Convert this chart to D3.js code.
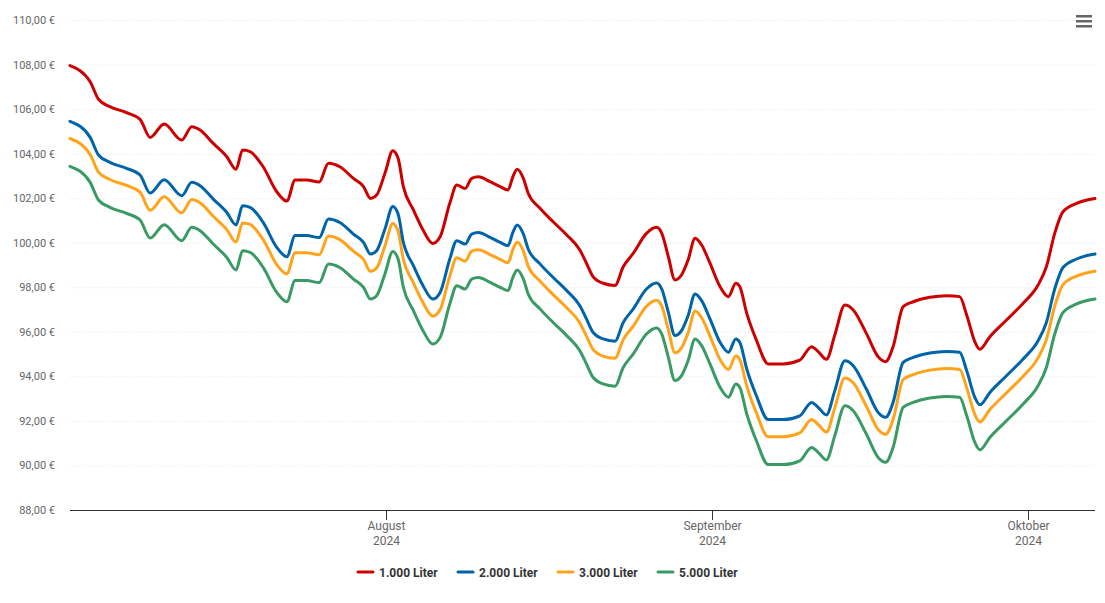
<!DOCTYPE html>
<html lang="de">
<head>
  <meta charset="UTF-8" />
  <title>Heizölpreise</title>
  <script src="https://d3js.org/d3.v7.min.js"></script>
  <style>
    body {
      margin: 0;
      background: #fff;
      font-family: Roboto, "Open Sans", Arial, sans-serif;
    }
    #chart svg { display: block; }
    .grid line { stroke: #e6e6e6; stroke-dasharray: 1,2; }
    .ylab { fill: #666; font-size: 11px; }
    .xlab { fill: #666; font-size: 12px; }
    .legend text { fill: #333; font-size: 12px; font-weight: bold; }
  </style>
</head>
<body>
  <div id="chart"></div>

  <script>
    // ---------- DATA ----------
    const dates = [
      "2024-07-01T22", "2024-07-03T20", "2024-07-04T15", "2024-07-05T17", "2024-07-07T07",
      "2024-07-08T14", "2024-07-09T13", "2024-07-10T21", "2024-07-12T13", "2024-07-13T12",
      "2024-07-14T07", "2024-07-15T13", "2024-07-16T20", "2024-07-17T17", "2024-07-18T08",
      "2024-07-19T01", "2024-07-20T07", "2024-07-21T14", "2024-07-22T13", "2024-07-23T08",
      "2024-07-24T10", "2024-07-25T15", "2024-07-26T12", "2024-07-27T14", "2024-07-28T21",
      "2024-07-29T20", "2024-07-30T12", "2024-07-31T02", "2024-07-31T21", "2024-08-01T15",
      "2024-08-02T03", "2024-08-02T15", "2024-08-03T14", "2024-08-04T12", "2024-08-05T10",
      "2024-08-06T03", "2024-08-07T01", "2024-08-07T17", "2024-08-08T12", "2024-08-09T03",
      "2024-08-09T18", "2024-08-10T21", "2024-08-11T20", "2024-08-12T14", "2024-08-13T01",
      "2024-08-13T11", "2024-08-14T01", "2024-08-14T12", "2024-08-15T15", "2024-08-16T21",
      "2024-08-18T04", "2024-08-19T10", "2024-08-20T01", "2024-08-20T16", "2024-08-21T15",
      "2024-08-22T18", "2024-08-23T13", "2024-08-24T12", "2024-08-25T18", "2024-08-26T17",
      "2024-08-27T05", "2024-08-27T20", "2024-08-28T11", "2024-08-29T02", "2024-08-29T17",
      "2024-08-30T09", "2024-08-31T00", "2024-08-31T19", "2024-09-01T18", "2024-09-02T13",
      "2024-09-03T06", "2024-09-03T15", "2024-09-04T07", "2024-09-05T05", "2024-09-06T08",
      "2024-09-07T18", "2024-09-09T08", "2024-09-10T11", "2024-09-11T02", "2024-09-11T21",
      "2024-09-12T16", "2024-09-13T15", "2024-09-14T10", "2024-09-15T16", "2024-09-16T19",
      "2024-09-17T12", "2024-09-18T05", "2024-09-19T04", "2024-09-20T03", "2024-09-21T17",
      "2024-09-23T07", "2024-09-24T13", "2024-09-25T05", "2024-09-26T00", "2024-09-26T11",
      "2024-09-27T10", "2024-09-29T00", "2024-09-30T14", "2024-10-02T00", "2024-10-02T19",
      "2024-10-03T14", "2024-10-04T09", "2024-10-05T16", "2024-10-07T10"
    ];

    const liter1000 = [
      107.95, 107.23, 106.44, 106.11, 105.84, 105.54, 104.73, 105.33, 104.61, 105.21,
      105.06, 104.46, 103.86, 103.30, 104.16, 104.09, 103.41, 102.29, 101.87, 102.82,
      102.82, 102.73, 103.57, 103.41, 102.89, 102.52, 101.99, 102.14, 103.12, 104.13,
      103.79, 102.52, 101.47, 100.57, 99.97, 100.27, 101.77, 102.59, 102.44, 102.89,
      102.96, 102.74, 102.52, 102.37, 102.96, 103.30, 102.89, 102.22, 101.55, 100.94,
      100.35, 99.67, 99.08, 98.48, 98.18, 98.08, 98.92, 99.53, 100.42, 100.69,
      100.42, 99.37, 98.33, 98.55, 99.22, 100.20, 99.90, 99.08, 98.03, 97.58,
      98.18, 98.03, 96.83, 95.63, 94.56, 94.56, 94.73, 95.33, 95.11, 94.77,
      95.86, 97.20, 96.98, 95.93, 94.88, 94.66, 95.33, 97.13, 97.35, 97.55,
      97.62, 97.58, 96.76, 95.54, 95.22, 95.78, 96.53, 97.28, 98.10, 98.92,
      100.42, 101.39, 101.77, 101.99
    ];

    const liter2000 = [
      105.45, 104.73, 103.94, 103.61, 103.34, 103.04, 102.23, 102.83, 102.11, 102.71,
      102.56, 101.96, 101.36, 100.80, 101.66, 101.59, 100.91, 99.79, 99.37, 100.32,
      100.32, 100.23, 101.07, 100.91, 100.39, 100.02, 99.49, 99.64, 100.62, 101.63,
      101.29, 100.02, 98.97, 98.07, 97.47, 97.77, 99.27, 100.09, 99.94, 100.39,
      100.46, 100.24, 100.02, 99.87, 100.46, 100.80, 100.39, 99.72, 99.05, 98.44,
      97.85, 97.17, 96.58, 95.98, 95.68, 95.58, 96.42, 97.03, 97.92, 98.19,
      97.92, 96.87, 95.83, 96.05, 96.72, 97.70, 97.40, 96.58, 95.53, 95.08,
      95.68, 95.53, 94.33, 93.13, 92.06, 92.06, 92.23, 92.83, 92.61, 92.27,
      93.36, 94.70, 94.48, 93.43, 92.38, 92.16, 92.83, 94.63, 94.85, 95.05,
      95.12, 95.08, 94.26, 93.04, 92.72, 93.28, 94.03, 94.78, 95.60, 96.42,
      97.92, 98.89, 99.27, 99.49
    ];

    const liter3000 = [
      104.68, 103.96, 103.17, 102.84, 102.57, 102.27, 101.46, 102.06, 101.34, 101.94,
      101.79, 101.19, 100.59, 100.03, 100.89, 100.82, 100.14, 99.02, 98.60, 99.55,
      99.55, 99.46, 100.30, 100.14, 99.62, 99.25, 98.72, 98.87, 99.85, 100.86,
      100.52, 99.25, 98.20, 97.30, 96.70, 97.00, 98.50, 99.32, 99.17, 99.62,
      99.69, 99.47, 99.25, 99.10, 99.69, 100.03, 99.62, 98.95, 98.28, 97.67,
      97.08, 96.40, 95.81, 95.21, 94.91, 94.81, 95.65, 96.26, 97.15, 97.42,
      97.15, 96.10, 95.06, 95.28, 95.95, 96.93, 96.63, 95.81, 94.76, 94.31,
      94.91, 94.76, 93.56, 92.36, 91.29, 91.29, 91.46, 92.06, 91.84, 91.50,
      92.59, 93.93, 93.71, 92.66, 91.61, 91.39, 92.06, 93.86, 94.08, 94.28,
      94.35, 94.31, 93.49, 92.27, 91.95, 92.51, 93.26, 94.01, 94.83, 95.65,
      97.15, 98.12, 98.50, 98.72
    ];

    const liter5000 = [
      103.43, 102.71, 101.92, 101.59, 101.32, 101.02, 100.21, 100.81, 100.09, 100.69,
      100.54, 99.94, 99.34, 98.78, 99.64, 99.57, 98.89, 97.77, 97.35, 98.30,
      98.30, 98.21, 99.05, 98.89, 98.37, 98.00, 97.47, 97.62, 98.60, 99.61,
      99.27, 98.00, 96.95, 96.05, 95.45, 95.75, 97.25, 98.07, 97.92, 98.37,
      98.44, 98.22, 98.00, 97.85, 98.44, 98.78, 98.37, 97.70, 97.03, 96.42,
      95.83, 95.15, 94.56, 93.96, 93.66, 93.56, 94.40, 95.01, 95.90, 96.17,
      95.90, 94.85, 93.81, 94.03, 94.70, 95.68, 95.38, 94.56, 93.51, 93.06,
      93.66, 93.51, 92.31, 91.11, 90.04, 90.04, 90.21, 90.81, 90.59, 90.25,
      91.34, 92.68, 92.46, 91.41, 90.36, 90.14, 90.81, 92.61, 92.83, 93.03,
      93.10, 93.06, 92.24, 91.02, 90.70, 91.26, 92.01, 92.76, 93.58, 94.40,
      95.90, 96.87, 97.25, 97.47
    ];

    const seriesNames = ["1.000 Liter", "2.000 Liter", "3.000 Liter", "5.000 Liter"];
    const seriesColors = ["#cc0000", "#0064a8", "#ffa31a", "#3a9a64"];
    const seriesValues = [liter1000, liter2000, liter3000, liter5000];
    const yTicks = [88, 90, 92, 94, 96, 98, 100, 102, 104, 106, 108, 110];
    const monthTicks = ["2024-08-01", "2024-09-01", "2024-10-01"];
    const monthNames = ["August", "September", "Oktober"];

    // ---------- CHART ----------
    const width = 1105, height = 603;
    const plotLeft = 70, plotRight = 1095, plotTop = 20, plotBottom = 510;

    const parseT = d3.utcParse("%Y-%m-%dT%H");
    const parseD = d3.utcParse("%Y-%m-%d");
    const times = dates.map(parseT);

    const x = d3.scaleUtc().domain(d3.extent(times)).range([plotLeft, plotRight]);
    const y = d3.scaleLinear().domain([88, 110]).range([plotBottom, plotTop]);

    const svg = d3.select("#chart").append("svg")
      .attr("width", width).attr("height", height);

    // grid
    svg.append("g").attr("class", "grid")
      .selectAll("line")
      .data(yTicks.filter(t => t !== 88))
      .join("line")
      .attr("x1", plotLeft).attr("x2", plotRight)
      .attr("y1", d => y(d) + 0.5).attr("y2", d => y(d) + 0.5);

    // y labels
    const fmt = d3.formatLocale({ decimal: ",", thousands: ".", grouping: [3], currency: ["", " €"] }).format(",.2f");
    svg.append("g")
      .selectAll("text")
      .data(yTicks)
      .join("text")
      .attr("class", "ylab")
      .attr("x", 55)
      .attr("y", d => y(d) + 4)
      .attr("text-anchor", "end")
      .text(d => fmt(d) + " €");

    // x axis
    svg.append("line")
      .attr("x1", plotLeft).attr("x2", plotRight)
      .attr("y1", plotBottom + 0.5).attr("y2", plotBottom + 0.5)
      .attr("stroke", "#333").attr("stroke-width", 1);

    const mt = monthTicks.map(parseD);
    const xt = svg.append("g").selectAll("g").data(mt).join("g")
      .attr("transform", d => `translate(${Math.round(x(d)) + 0.5},0)`);
    xt.append("line")
      .attr("y1", plotBottom).attr("y2", plotBottom + 10)
      .attr("stroke", "#333");
    xt.append("text").attr("class", "xlab")
      .attr("text-anchor", "middle").attr("y", plotBottom + 20)
      .text((d, i) => monthNames[i]);
    xt.append("text").attr("class", "xlab")
      .attr("text-anchor", "middle").attr("y", plotBottom + 35)
      .text(d => d3.utcFormat("%Y")(d));

    // lines
    const line = d3.line()
      .x((d, i) => x(times[i]))
      .y(d => y(d))
      .curve(d3.curveMonotoneX);

    svg.append("g")
      .selectAll("path")
      .data(seriesValues.slice().reverse())
      .join("path")
      .attr("fill", "none")
      .attr("stroke", (d, i) => seriesColors[3 - i])
      .attr("stroke-width", 3)
      .attr("stroke-linejoin", "round")
      .attr("stroke-linecap", "round")
      .attr("d", line);

    // legend
    const lg = svg.append("g").attr("class", "legend")
      .selectAll("g").data(seriesNames).join("g")
      .attr("transform", (d, i) => `translate(${358 + i * 100},572)`);
    lg.append("line")
      .attr("x1", 0).attr("x2", 15)
      .attr("stroke", (d, i) => seriesColors[i])
      .attr("stroke-width", 3)
      .attr("stroke-linecap", "round");
    lg.append("text")
      .attr("x", 21).attr("y", 4.5)
      .text(d => d);

    // menu icon
    svg.append("g").selectAll("rect").data([0, 1, 2]).join("rect")
      .attr("x", 1076).attr("y", d => 15 + d * 5)
      .attr("width", 16).attr("height", 2.5)
      .attr("fill", "#666");
  </script>
</body>
</html>
